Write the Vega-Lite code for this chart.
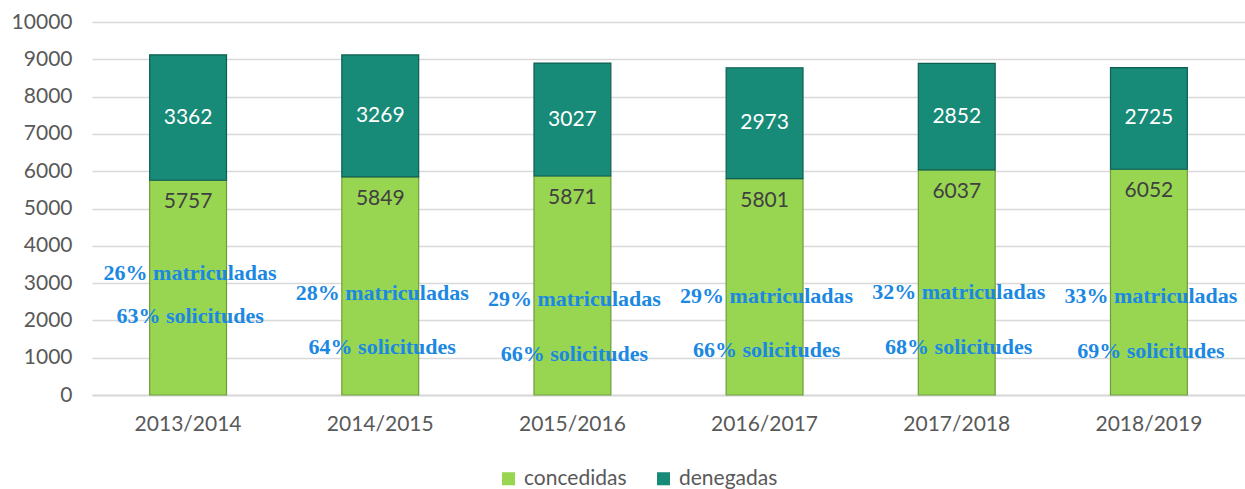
{
  "$schema": "https://vega.github.io/schema/vega-lite/v6.json",
  "width": 1153,
  "height": 373,
  "autosize": {"type": "none"},
  "padding": {"left": 92, "top": 22, "right": 0, "bottom": 94},
  "background": "white",
  "config": {
    "view": {"stroke": null},
    "font": "Lato",
    "axisY": {
      "title": null,
      "values": [0, 1000, 2000, 3000, 4000, 5000, 6000, 7000, 8000, 9000, 10000],
      "format": "d",
      "labelOverlap": false,
      "labelFontSize": 21,
      "labelColor": "#595959",
      "labelPadding": 20,
      "domain": false,
      "ticks": false,
      "gridColor": "#d9d9d9",
      "gridWidth": 1.5
    }
  },
  "datasets": {
    "bars": [
      {"year": "2013/2014", "tipo": "concedidas", "value": 5757},
      {"year": "2013/2014", "tipo": "denegadas", "value": 3362},
      {"year": "2014/2015", "tipo": "concedidas", "value": 5849},
      {"year": "2014/2015", "tipo": "denegadas", "value": 3269},
      {"year": "2015/2016", "tipo": "concedidas", "value": 5871},
      {"year": "2015/2016", "tipo": "denegadas", "value": 3027},
      {"year": "2016/2017", "tipo": "concedidas", "value": 5801},
      {"year": "2016/2017", "tipo": "denegadas", "value": 2973},
      {"year": "2017/2018", "tipo": "concedidas", "value": 6037},
      {"year": "2017/2018", "tipo": "denegadas", "value": 2852},
      {"year": "2018/2019", "tipo": "concedidas", "value": 6052},
      {"year": "2018/2019", "tipo": "denegadas", "value": 2725}
    ],
    "notes": [
      {"year": "2013/2014", "label": "26% matriculadas", "ypos": 3270},
      {"year": "2013/2014", "label": "63% solicitudes", "ypos": 2120},
      {"year": "2014/2015", "label": "28% matriculadas", "ypos": 2735},
      {"year": "2014/2015", "label": "64% solicitudes", "ypos": 1290},
      {"year": "2015/2016", "label": "29% matriculadas", "ypos": 2575},
      {"year": "2015/2016", "label": "66% solicitudes", "ypos": 1100},
      {"year": "2016/2017", "label": "29% matriculadas", "ypos": 2655},
      {"year": "2016/2017", "label": "66% solicitudes", "ypos": 1205},
      {"year": "2017/2018", "label": "32% matriculadas", "ypos": 2760},
      {"year": "2017/2018", "label": "68% solicitudes", "ypos": 1290},
      {"year": "2018/2019", "label": "33% matriculadas", "ypos": 2655},
      {"year": "2018/2019", "label": "69% solicitudes", "ypos": 1180}
    ]
  },
  "encoding": {
    "x": {
      "field": "year",
      "type": "nominal",
      "scale": {"paddingInner": 0.6, "paddingOuter": 0.3},
      "axis": {
        "title": null,
        "labelAngle": 0,
        "labelFontSize": 21,
        "labelColor": "#595959",
        "labelPadding": 18,
        "ticks": false,
        "domainColor": "#d9d9d9",
        "domainWidth": 2
      }
    }
  },
  "layer": [
    {
      "data": {"name": "bars"},
      "mark": {"type": "bar", "strokeWidth": 1.2},
      "encoding": {
        "y": {
          "field": "value",
          "type": "quantitative",
          "stack": "zero",
          "scale": {"domain": [0, 10000]}
        },
        "order": {"field": "tipo", "sort": "ascending"},
        "color": {
          "field": "tipo",
          "type": "nominal",
          "scale": {"domain": ["concedidas", "denegadas"], "range": ["#98d652", "#178a78"]},
          "legend": {
            "title": null,
            "orient": "none",
            "legendX": 406,
            "legendY": 446,
            "direction": "horizontal",
            "symbolType": "square",
            "symbolSize": 170,
            "symbolStrokeWidth": 0,
            "labelFontSize": 21,
            "labelColor": "#595959",
            "labelOffset": 5,
            "columnPadding": 26
          }
        },
        "stroke": {
          "field": "tipo",
          "type": "nominal",
          "scale": {"domain": ["concedidas", "denegadas"], "range": ["#6f9c3a", "#0f5e52"]},
          "legend": null
        }
      }
    },
    {
      "data": {"name": "bars"},
      "transform": [{"filter": "datum.tipo == 'concedidas'"}],
      "mark": {"type": "text", "dy": 22, "fontSize": 21, "color": "#404040"},
      "encoding": {
        "y": {"field": "value", "type": "quantitative"},
        "text": {"field": "value", "type": "quantitative", "format": "d"}
      }
    },
    {
      "data": {"name": "bars"},
      "transform": [
        {"stack": "value", "groupby": ["year"], "sort": [{"field": "tipo", "order": "ascending"}], "as": ["v0", "v1"]},
        {"filter": "datum.tipo == 'denegadas'"},
        {"calculate": "(datum.v0 + datum.v1) / 2", "as": "mid"}
      ],
      "mark": {"type": "text", "fontSize": 21, "color": "white"},
      "encoding": {
        "y": {"field": "mid", "type": "quantitative"},
        "text": {"field": "value", "type": "quantitative", "format": "d"}
      }
    },
    {
      "data": {"name": "notes"},
      "mark": {"type": "text", "font": "Liberation Serif", "fontWeight": "bold", "fontSize": 22, "color": "#1b88e3", "dx": 2},
      "encoding": {
        "y": {"field": "ypos", "type": "quantitative"},
        "text": {"field": "label"}
      }
    }
  ]
}
